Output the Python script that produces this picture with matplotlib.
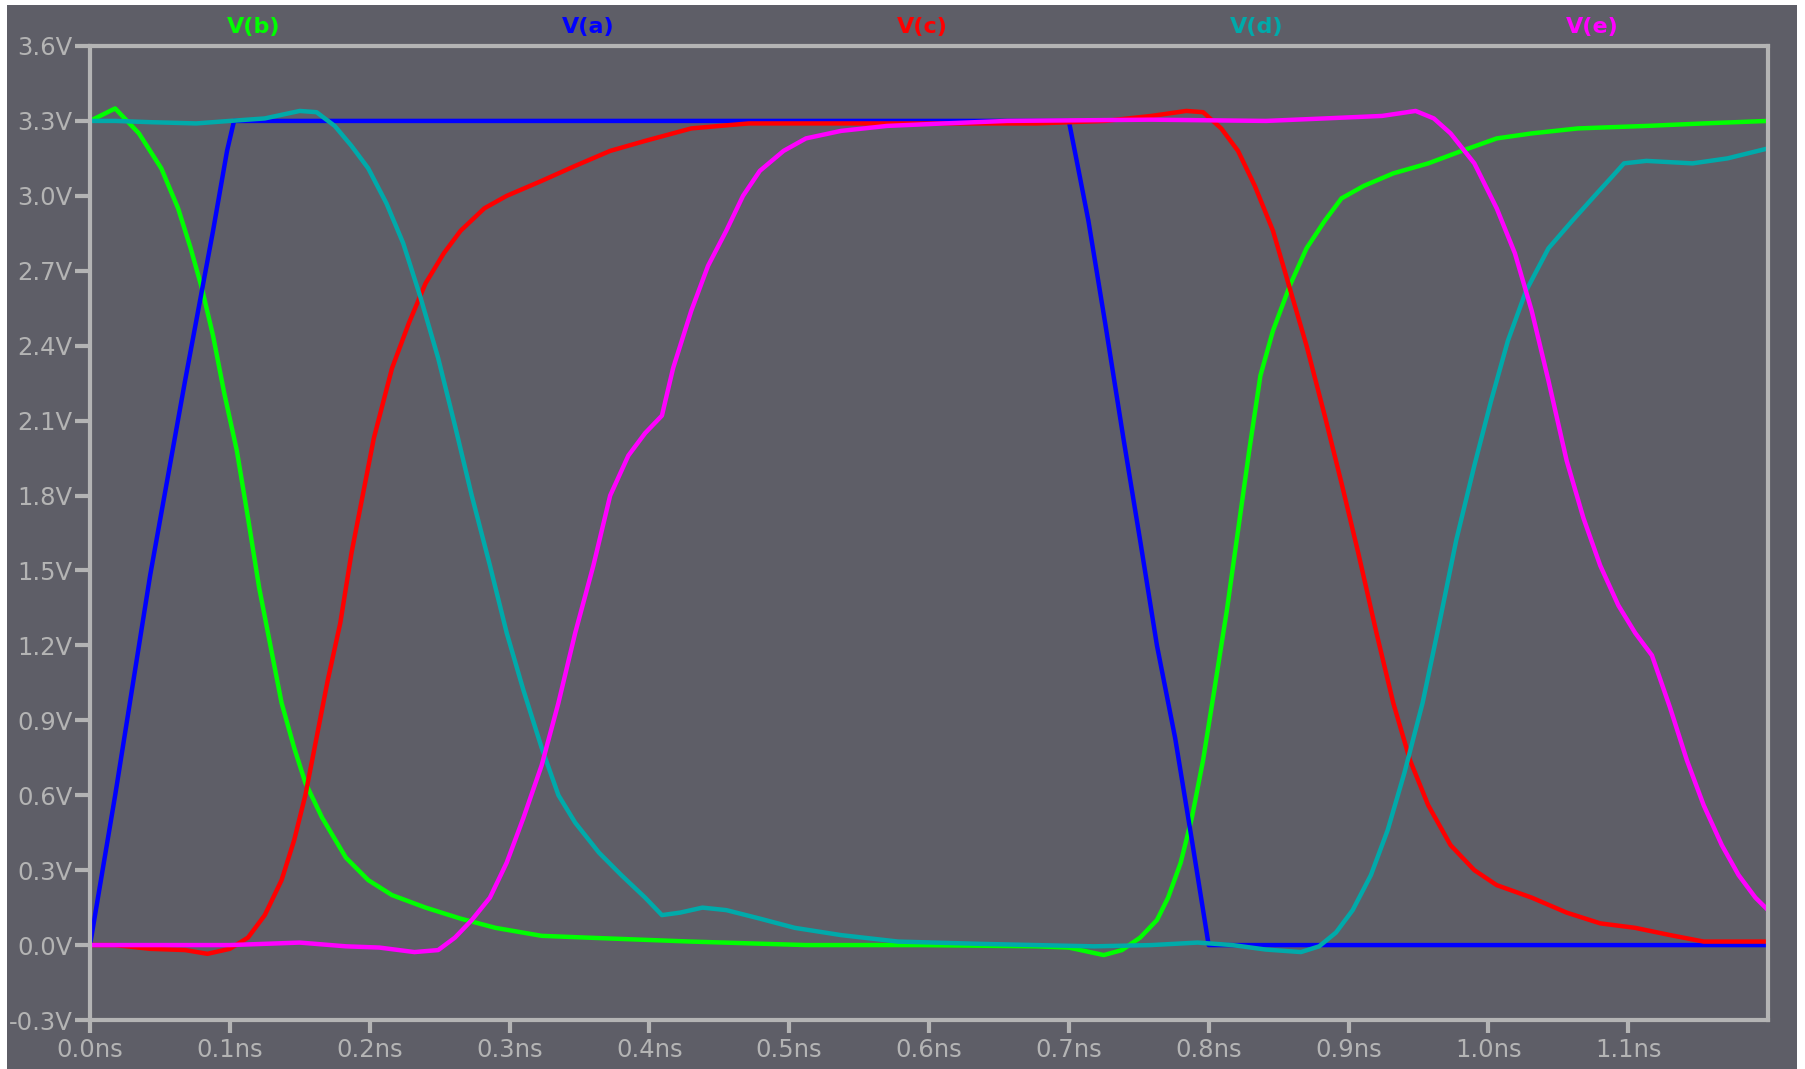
import matplotlib
matplotlib.use("Agg")
import matplotlib.pyplot as plt
from matplotlib.patches import Rectangle

# ---------------- data (time in ns, voltage in V) ----------------
t_b = [0.0, 0.018, 0.035, 0.051, 0.063, 0.072, 0.080, 0.088, 0.096, 0.105, 0.113, 0.121, 0.129,
       0.137, 0.146, 0.154, 0.166, 0.183, 0.199, 0.216, 0.240, 0.265, 0.290, 0.323, 0.364, 0.430,
       0.512, 0.594, 0.677, 0.700, 0.725, 0.738, 0.751, 0.763, 0.771, 0.780, 0.788, 0.796, 0.804,
       0.813, 0.821, 0.829, 0.837, 0.846, 0.858, 0.870, 0.883, 0.895, 0.911, 0.932, 0.957, 0.981,
       1.006, 1.031, 1.064, 1.113, 1.154, 1.200]
v_b = [3.30, 3.35, 3.25, 3.11, 2.95, 2.79, 2.63, 2.44, 2.21, 1.98, 1.71, 1.43, 1.20,
       0.97, 0.79, 0.65, 0.51, 0.35, 0.26, 0.20, 0.15, 0.106, 0.069, 0.037, 0.028, 0.014,
       0.0, 0.0, -0.005, -0.01, -0.04, -0.02, 0.03, 0.10, 0.19, 0.33, 0.51, 0.74, 1.02,
       1.34, 1.66, 1.98, 2.28, 2.46, 2.64, 2.79, 2.90, 2.99, 3.04, 3.09, 3.13, 3.18,
       3.23, 3.25, 3.27, 3.28, 3.29, 3.30]

t_a = [0.0, 0.018, 0.043, 0.068, 0.088, 0.098, 0.103, 0.70, 0.706, 0.714, 0.726, 0.739, 0.751,
       0.763, 0.776, 0.788, 0.796, 0.800, 1.200]
v_a = [0.0, 0.60, 1.48, 2.26, 2.86, 3.18, 3.30, 3.30, 3.13, 2.90, 2.49, 2.03, 1.62,
       1.20, 0.83, 0.42, 0.14, 0.0, 0.0]

t_c = [0.0, 0.018, 0.043, 0.068, 0.084, 0.100, 0.113, 0.125, 0.137, 0.146, 0.154, 0.162, 0.170,
       0.179, 0.187, 0.195, 0.203, 0.216, 0.228, 0.240, 0.253, 0.265, 0.282, 0.298, 0.323, 0.347,
       0.372, 0.397, 0.430, 0.471, 0.512, 0.594, 0.677, 0.726, 0.759, 0.784, 0.796, 0.809, 0.821,
       0.833, 0.846, 0.858, 0.870, 0.883, 0.895, 0.907, 0.920, 0.932, 0.944, 0.957, 0.973, 0.990,
       1.006, 1.031, 1.056, 1.080, 1.105, 1.130, 1.154, 1.200]
v_c = [0.0, 0.0, -0.015, -0.02, -0.035, -0.015, 0.03, 0.12, 0.26, 0.42, 0.60, 0.83, 1.06,
       1.29, 1.57, 1.80, 2.03, 2.31, 2.49, 2.65, 2.77, 2.86, 2.95, 3.00, 3.06, 3.12,
       3.18, 3.22, 3.27, 3.29, 3.29, 3.29, 3.29, 3.30, 3.32, 3.34, 3.335, 3.27, 3.18,
       3.04, 2.86, 2.63, 2.40, 2.12, 1.85, 1.57, 1.25, 0.97, 0.74, 0.56, 0.40, 0.30,
       0.24, 0.19, 0.13, 0.087, 0.069, 0.04, 0.014, 0.014]

t_d = [0.0, 0.018, 0.043, 0.076, 0.100, 0.125, 0.150, 0.162, 0.175, 0.187, 0.199, 0.212, 0.224,
       0.236, 0.249, 0.261, 0.273, 0.286, 0.298, 0.310, 0.323, 0.335, 0.347, 0.364, 0.380, 0.397,
       0.409, 0.422, 0.438, 0.455, 0.479, 0.504, 0.537, 0.578, 0.636, 0.718, 0.759, 0.792, 0.817,
       0.841, 0.866, 0.879, 0.891, 0.903, 0.916, 0.928, 0.940, 0.953, 0.965, 0.977, 0.990, 1.002,
       1.014, 1.027, 1.043, 1.060, 1.076, 1.089, 1.097, 1.113, 1.146, 1.171, 1.200]
v_d = [3.30, 3.30, 3.295, 3.29, 3.30, 3.31, 3.34, 3.335, 3.28, 3.20, 3.11, 2.97, 2.81,
       2.60, 2.35, 2.08, 1.80, 1.52, 1.25, 1.02, 0.79, 0.60, 0.49, 0.37, 0.28, 0.19,
       0.12, 0.13, 0.15, 0.14, 0.106, 0.069, 0.04, 0.014, 0.005, -0.005, 0.0, 0.01, 0.0,
       -0.018, -0.028, -0.005, 0.05, 0.14, 0.28, 0.46, 0.69, 0.97, 1.29, 1.62, 1.92, 2.18,
       2.42, 2.62, 2.79, 2.90, 3.00, 3.08, 3.13, 3.14, 3.13, 3.15, 3.19]

t_e = [0.0, 0.100, 0.150, 0.183, 0.207, 0.232, 0.249, 0.261, 0.273, 0.286, 0.298, 0.310, 0.323,
       0.335, 0.347, 0.360, 0.372, 0.385, 0.397, 0.409, 0.417, 0.430, 0.442, 0.455, 0.467, 0.479,
       0.496, 0.512, 0.537, 0.570, 0.611, 0.656, 0.759, 0.841, 0.883, 0.924, 0.948, 0.961, 0.973,
       0.990, 1.006, 1.019, 1.031, 1.043, 1.056, 1.068, 1.080, 1.093, 1.105, 1.117, 1.130, 1.142,
       1.154, 1.167, 1.179, 1.191, 1.200]
v_e = [0.0, 0.0, 0.01, -0.005, -0.01, -0.028, -0.02, 0.03, 0.10, 0.19, 0.33, 0.51, 0.72,
       0.97, 1.25, 1.52, 1.80, 1.96, 2.05, 2.12, 2.31, 2.54, 2.72, 2.86, 3.00, 3.10,
       3.18, 3.23, 3.26, 3.28, 3.29, 3.30, 3.305, 3.30, 3.31, 3.32, 3.34, 3.31, 3.25,
       3.13, 2.95, 2.77, 2.54, 2.26, 1.94, 1.71, 1.52, 1.36, 1.25, 1.16, 0.95, 0.74,
       0.56, 0.40, 0.28, 0.19, 0.14]

series_names = ["V(b)", "V(a)", "V(c)", "V(d)", "V(e)"]
series_t = [t_b, t_a, t_c, t_d, t_e]
series_v = [v_b, v_a, v_c, v_d, v_e]
series_colors = ["#00ff00", "#0000ff", "#ff0000", "#00aaaa", "#ff00ff"]

x_ticks = [0.0, 0.1, 0.2, 0.3, 0.4, 0.5, 0.6, 0.7, 0.8, 0.9, 1.0, 1.1]
x_tick_labels = ["0.0ns", "0.1ns", "0.2ns", "0.3ns", "0.4ns", "0.5ns", "0.6ns", "0.7ns",
                 "0.8ns", "0.9ns", "1.0ns", "1.1ns"]
y_ticks = [-0.3, 0.0, 0.3, 0.6, 0.9, 1.2, 1.5, 1.8, 2.1, 2.4, 2.7, 3.0, 3.3, 3.6]
y_tick_labels = ["-0.3V", "0.0V", "0.3V", "0.6V", "0.9V", "1.2V", "1.5V", "1.8V", "2.1V",
                 "2.4V", "2.7V", "3.0V", "3.3V", "3.6V"]

# ---------------- styling ----------------
W, H = 1805, 1069
BG = "#5e5e67"
FG = "#b4b4b4"

fig = plt.figure(figsize=(W / 100, H / 100), dpi=100, facecolor="white")
fig.patches.append(Rectangle((7 / W, 0), (1797 - 7) / W, (H - 5) / H,
                             transform=fig.transFigure, facecolor=BG, edgecolor="none",
                             zorder=-10))

left, right, top, bottom = 90, 1768, 46, 1020
ax = fig.add_axes([left / W, 1 - bottom / H, (right - left) / W, (bottom - top) / H])
ax.set_facecolor(BG)

for name, t, v, c in zip(series_names, series_t, series_v, series_colors):
    ax.plot(t, v, color=c, lw=3.2, solid_joinstyle="round", solid_capstyle="round")

ax.set_xlim(0.0, 1.2)
ax.set_ylim(-0.3, 3.6)

ax.set_xticks(x_ticks)
ax.set_xticklabels(x_tick_labels)
ax.set_yticks(y_ticks)
ax.set_yticklabels(y_tick_labels)

for s in ax.spines.values():
    s.set_color(FG)
    s.set_linewidth(3.0)

ax.tick_params(axis="y", direction="out", length=11, width=3.0, color=FG, pad=1.5,
               labelsize=17.5, labelcolor=FG)
ax.tick_params(axis="x", direction="out", length=9, width=3.0, color=FG, pad=4,
               labelsize=17.5, labelcolor=FG)

legend_x_px = [254, 588, 922, 1257, 1592]
for name, c, xp in zip(series_names, series_colors, legend_x_px):
    fig.text(xp / W, 1 - 27 / H, name, color=c, fontsize=16, fontweight="bold",
             ha="center", va="center")

fig.savefig("out.png", dpi=100, facecolor=fig.get_facecolor())
